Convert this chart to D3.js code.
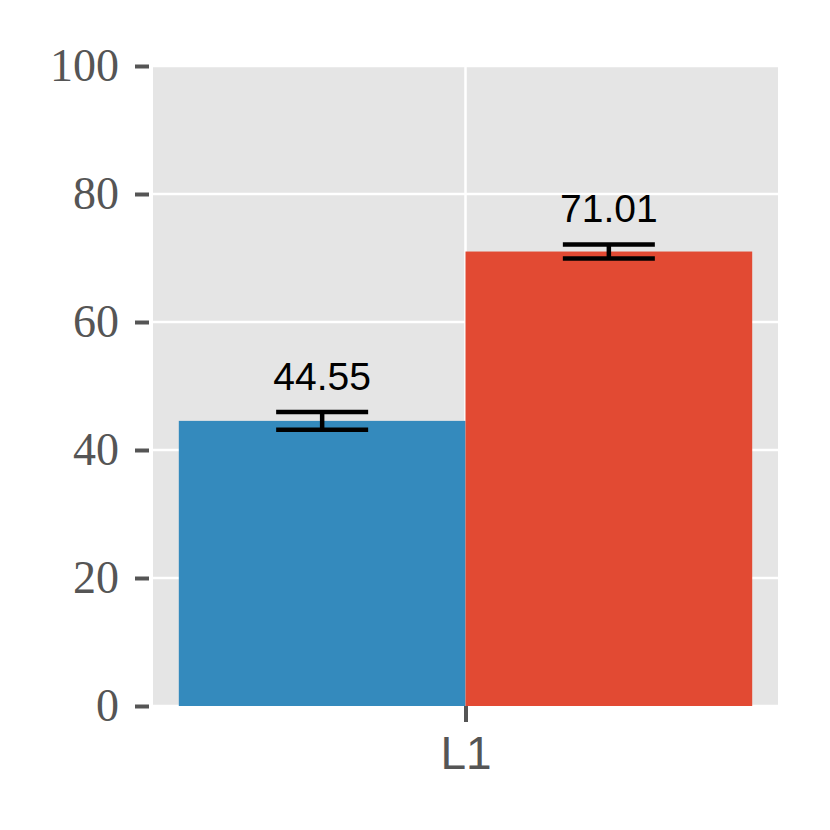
<!DOCTYPE html>
<html>
<head>
<meta charset="utf-8">
<script src="https://cdn.jsdelivr.net/npm/d3@7"></script>
<style>
  body { margin: 0; background: #fff; }
</style>
</head>
<body>
<svg id="chart"></svg>
<script>
// data
var categories = ["L1"];
var seriesNames = ["A", "B"];
var values = [44.55, 71.01];
var errors = [1.37, 1.1];
var colors = ["#348ABD", "#E24A33"];
var yTicks = [0, 20, 40, 60, 80, 100];

var svgWidth = 830, svgHeight = 830;
var margin = { top: 66, right: 52, bottom: 124, left: 153 };
var width = svgWidth - margin.left - margin.right;
var height = svgHeight - margin.top - margin.bottom;

var svg = d3.select("#chart")
  .attr("width", svgWidth)
  .attr("height", svgHeight);

var g = svg.append("g")
  .attr("transform", "translate(" + margin.left + "," + margin.top + ")");

// bars sit at -1..0 and 0..1 around the category, with small margins
var x = d3.scaleLinear().domain([-1.09, 1.09]).range([0, width]);
var y = d3.scaleLinear().domain([0, 100]).range([height, 0]);

g.append("rect")
  .attr("width", width)
  .attr("height", height)
  .attr("fill", "#E5E5E5");

// grid
g.selectAll(".hgrid")
  .data(yTicks)
  .enter().append("line")
  .attr("x1", 0).attr("x2", width)
  .attr("y1", function (d) { return y(d) }).attr("y2", function (d) { return y(d) })
  .attr("stroke", "#fff").attr("stroke-width", 2.5);

g.append("line")
  .attr("x1", x(0)).attr("x2", x(0))
  .attr("y1", 0).attr("y2", height)
  .attr("stroke", "#fff").attr("stroke-width", 2.5);

// bars
var bars = seriesNames.map(function (s, i) {
  return { name: s, value: values[i], err: errors[i], color: colors[i], x0: i - 1, x1: i };
});

g.selectAll(".bar")
  .data(bars)
  .enter().append("rect")
  .attr("x", function (d) { return x(d.x0) })
  .attr("width", function (d) { return x(d.x1) - x(d.x0) })
  .attr("y", function (d) { return y(d.value) })
  .attr("height", function (d) { return y(0) - y(d.value) })
  .attr("fill", function (d) { return d.color });

// error bars
var capHalf = 46;
bars.forEach(function (d) {
  var cx = x((d.x0 + d.x1) / 2);
  var eg = g.append("g").attr("stroke", "#000").attr("stroke-width", 4.5);
  eg.append("line")
    .attr("x1", cx).attr("x2", cx)
    .attr("y1", y(d.value + d.err)).attr("y2", y(d.value - d.err));
  eg.append("line")
    .attr("x1", cx - capHalf).attr("x2", cx + capHalf)
    .attr("y1", y(d.value + d.err)).attr("y2", y(d.value + d.err));
  eg.append("line")
    .attr("x1", cx - capHalf).attr("x2", cx + capHalf)
    .attr("y1", y(d.value - d.err)).attr("y2", y(d.value - d.err));

  g.append("text")
    .attr("x", cx)
    .attr("y", y(d.value + d.err) - 22)
    .attr("text-anchor", "middle")
    .attr("font-family", "Liberation Sans, Arial, sans-serif")
    .attr("font-size", 39)
    .attr("fill", "#000")
    .text(d.value.toFixed(2));
});

// y axis
var yAxis = g.append("g")
  .call(d3.axisLeft(y).tickValues(yTicks).tickSize(14).tickPadding(20));
yAxis.select(".domain").remove();
yAxis.selectAll(".tick line")
  .attr("stroke", "#555").attr("stroke-width", 4)
  .attr("transform", "translate(-4,0)");
yAxis.selectAll(".tick text")
  .attr("fill", "#555")
  .attr("font-family", "Liberation Serif, Times New Roman, serif")
  .attr("font-size", 46);

// x axis
var xAxis = g.append("g")
  .attr("transform", "translate(0," + height + ")")
  .call(d3.axisBottom(x).tickValues([0]).tickFormat(function (d, i) { return categories[i] }).tickSize(16).tickPadding(14));
xAxis.select(".domain").remove();
xAxis.selectAll(".tick line")
  .attr("stroke", "#555").attr("stroke-width", 4);
xAxis.selectAll(".tick text")
  .attr("fill", "#555")
  .attr("font-family", "Liberation Sans, Arial, sans-serif")
  .attr("font-size", 46);
</script>
</body>
</html>
